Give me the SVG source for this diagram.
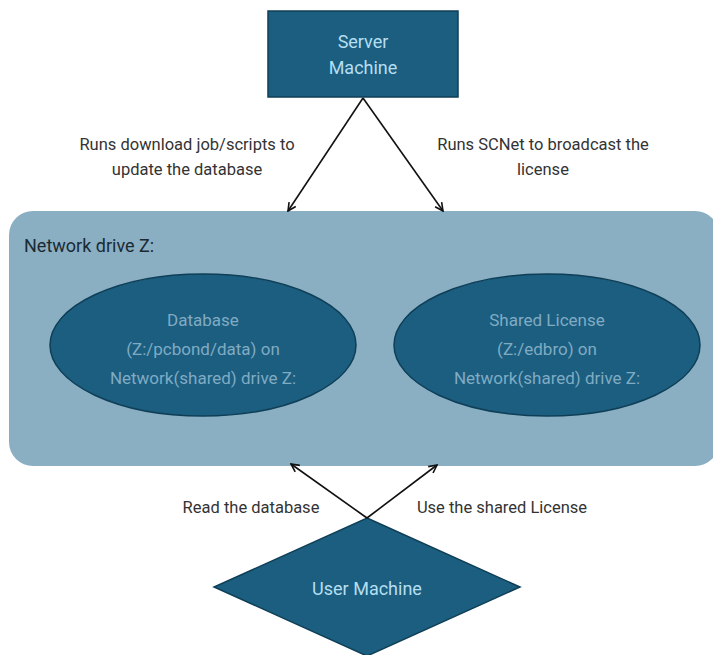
<svg xmlns="http://www.w3.org/2000/svg" width="713" height="655" viewBox="0 0 713 655">
<defs>
<marker id="ah" viewBox="0 0 10 10" refX="9" refY="5" markerWidth="10" markerHeight="10" orient="auto" markerUnits="userSpaceOnUse">
<path d="M1,1 L9,5 L1,9" fill="none" stroke="#111" stroke-width="1.6"/>
</marker>
<style>
.lbl{font-family:Roboto,"Liberation Sans",sans-serif;font-size:16.5px;fill:#333;text-anchor:middle}
.node{fill:#1b5e80;stroke:#0f3f57;stroke-width:1.5}
.ntxt{font-family:Roboto,"Liberation Sans",sans-serif;font-size:18px;fill:#b5dff0;text-anchor:middle}
.etxt{font-family:Roboto,"Liberation Sans",sans-serif;font-size:17px;fill:#80abc3;text-anchor:middle}
.conn{stroke:#111;stroke-width:1.6;fill:none;marker-end:url(#ah)}
</style>
</defs>
<rect width="713" height="655" fill="#fff"/>
<g id="network-drive">
<rect x="9" y="211" width="710" height="255" rx="24" fill="#8aafc3"/>
<text x="24" y="252" font-family="Roboto,'Liberation Sans',sans-serif" font-size="18" fill="#1a2a33">Network drive Z:</text>
</g>
<g id="server">
<rect class="node" x="268" y="11" width="190" height="86"/>
<text class="ntxt" x="363" y="48">Server</text>
<text class="ntxt" x="363" y="74">Machine</text>
</g>
<g id="database">
<ellipse class="node" cx="203" cy="345" rx="153" ry="71"/>
<text class="etxt" x="203" y="326">Database</text>
<text class="etxt" x="203" y="355">(Z:/pcbond/data) on</text>
<text class="etxt" x="203" y="384">Network(shared) drive Z:</text>
</g>
<g id="license">
<ellipse class="node" cx="547" cy="345" rx="153" ry="71"/>
<text class="etxt" x="547" y="326">Shared License</text>
<text class="etxt" x="547" y="355">(Z:/edbro) on</text>
<text class="etxt" x="547" y="384">Network(shared) drive Z:</text>
</g>
<g id="user">
<polygon class="node" points="367,518 520,587 367,656 214,587"/>
<text class="ntxt" x="367" y="595">User Machine</text>
</g>
<g id="connectors">
<line class="conn" x1="363" y1="98" x2="288" y2="211"/>
<line class="conn" x1="363" y1="98" x2="443" y2="211"/>
<line class="conn" x1="367" y1="518" x2="291" y2="464"/>
<line class="conn" x1="367" y1="518" x2="437" y2="465"/>
</g>
<g id="labels">
<text class="lbl" x="187" y="150">Runs download job/scripts to</text>
<text class="lbl" x="187" y="175">update the database</text>
<text class="lbl" x="543" y="150">Runs SCNet to broadcast the</text>
<text class="lbl" x="543" y="175">license</text>
<text class="lbl" x="251" y="513">Read the database</text>
<text class="lbl" x="502" y="513">Use the shared License</text>
</g>
</svg>
